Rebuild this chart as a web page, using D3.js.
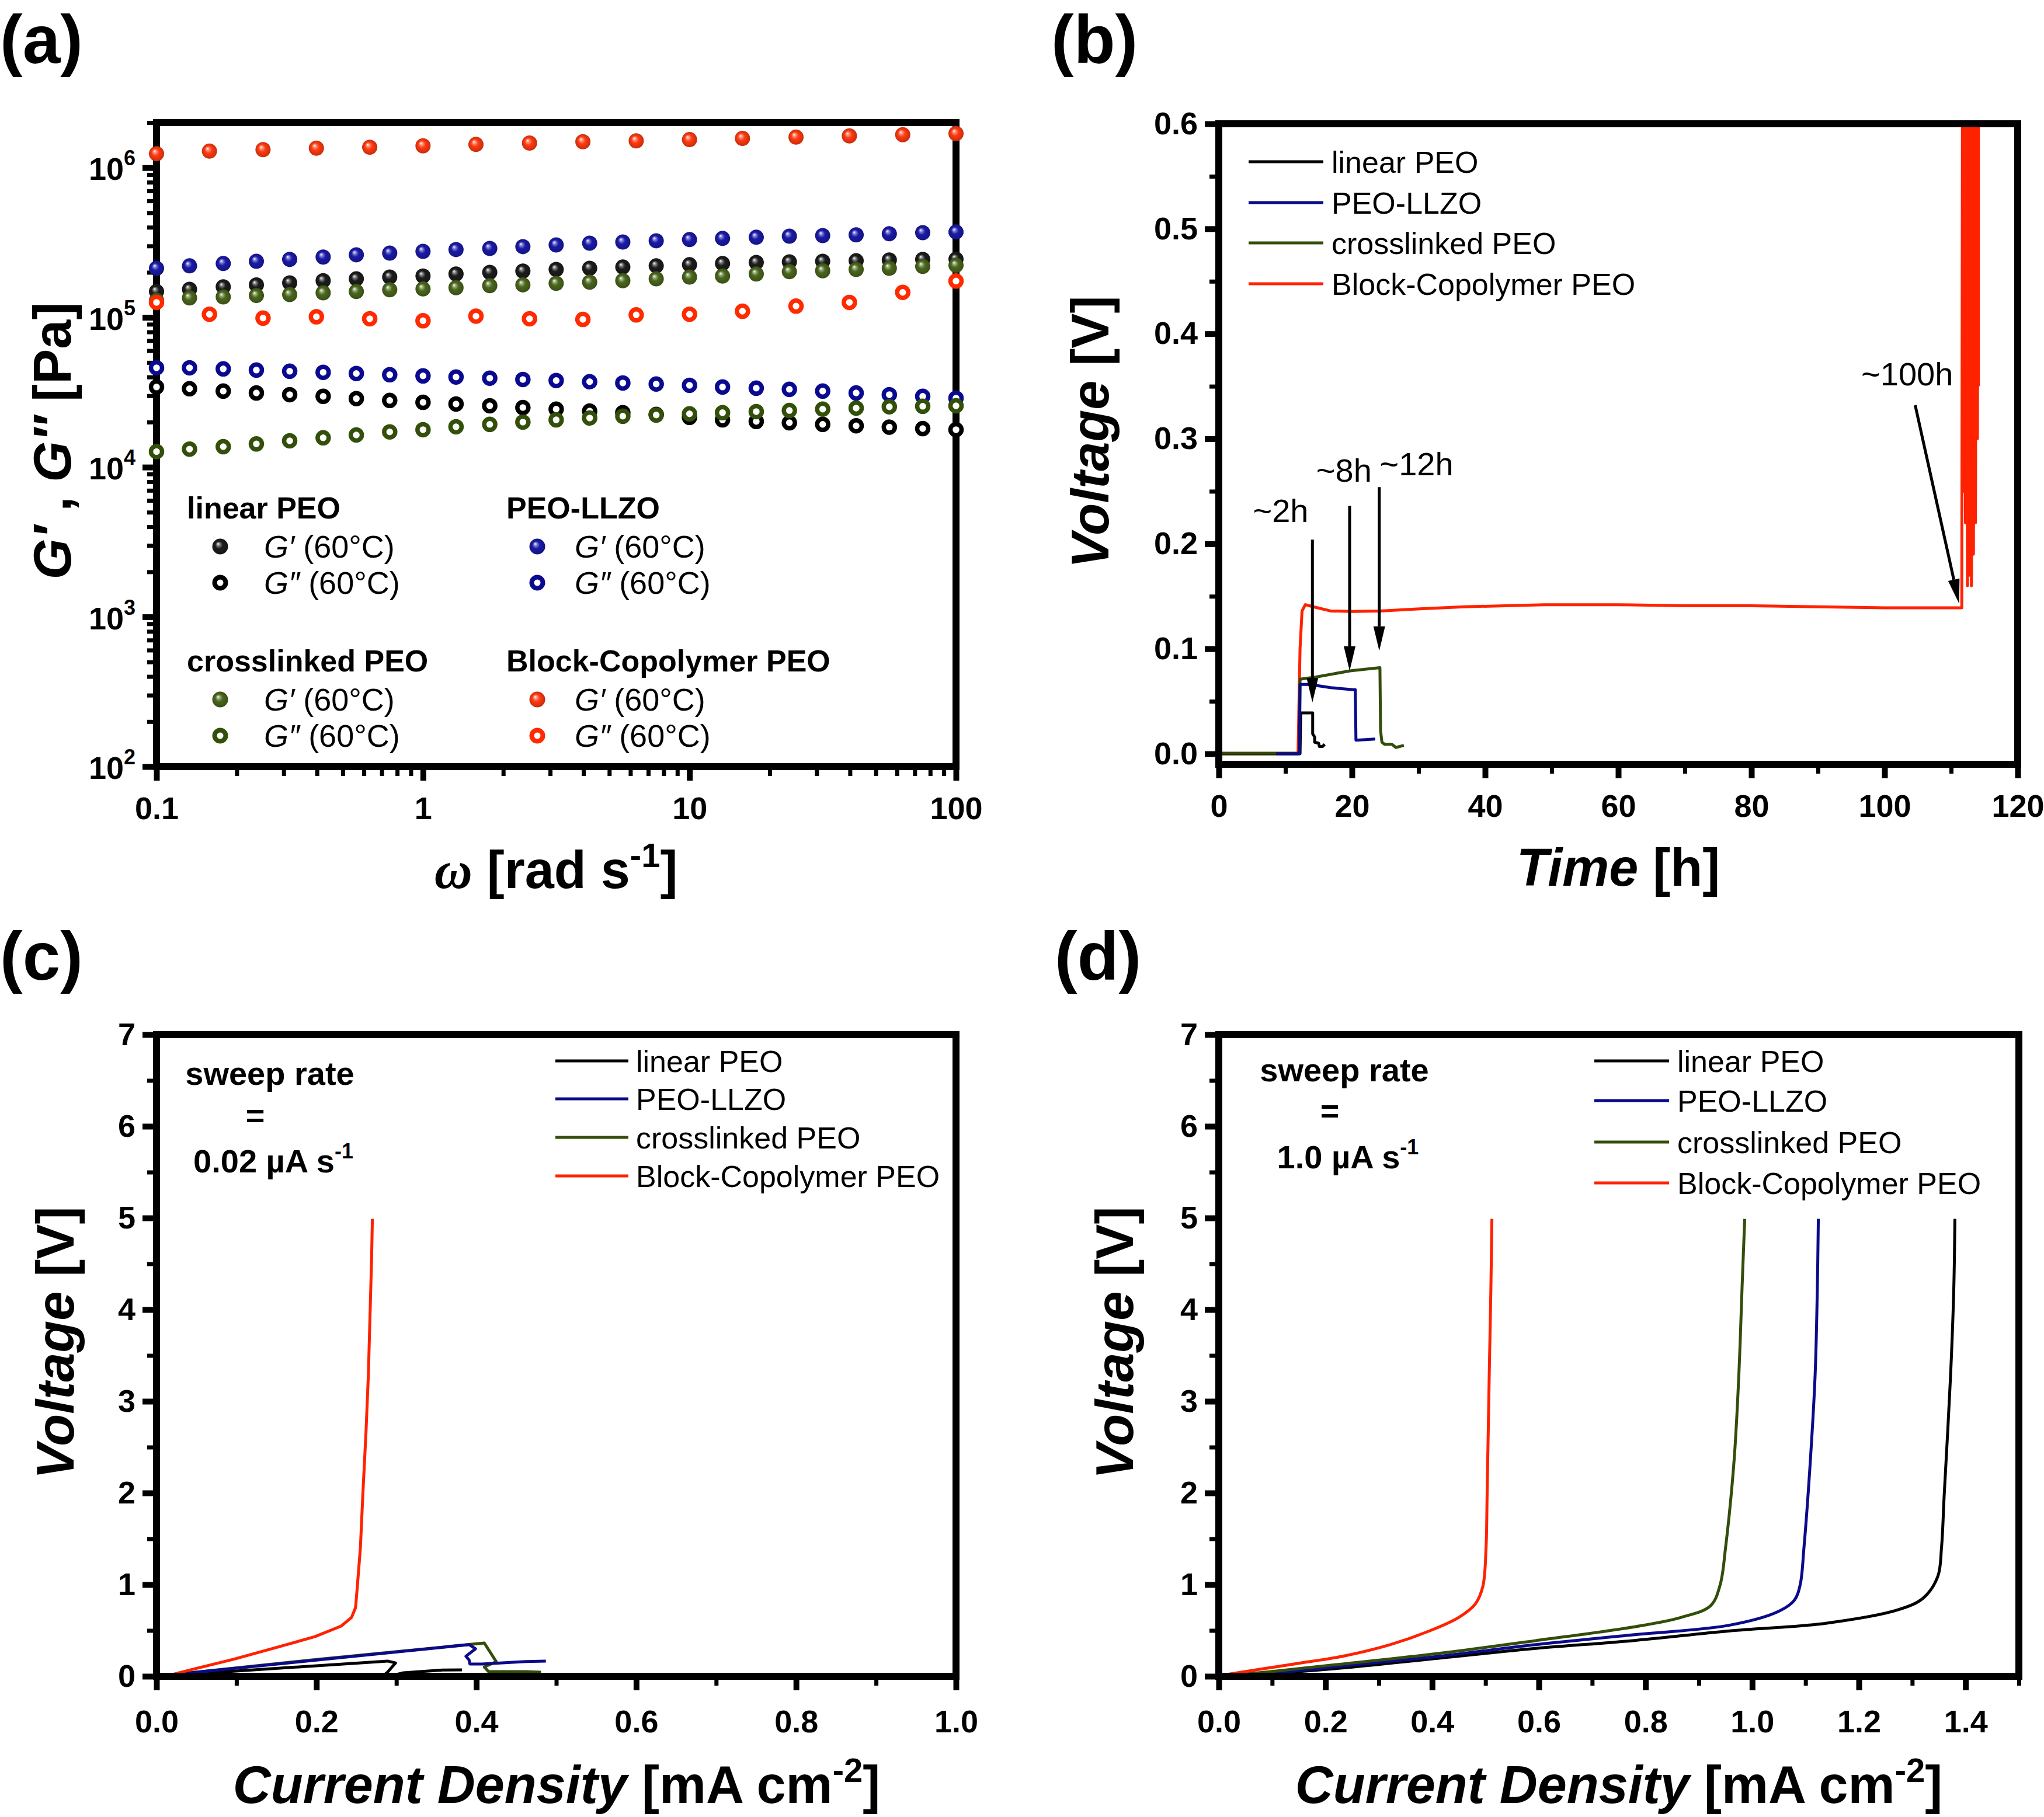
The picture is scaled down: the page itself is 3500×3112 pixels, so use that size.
<!DOCTYPE html>
<html>
<head>
<meta charset="utf-8">
<script src="https://cdn.jsdelivr.net/npm/d3@7"></script>
<style>
  body { margin: 0; background: #fff; }
  text { font-family: "Liberation Sans", Arial, Helvetica, sans-serif; fill: #000; }
</style>
</head>
<body>
<script>
// ---------- data: (a) rheology ----------
const omegaDense = [0.1, 0.133, 0.178, 0.237, 0.316, 0.422, 0.562, 0.75, 1, 1.33, 1.78, 2.37, 3.16, 4.22, 5.62, 7.5, 10, 13.3, 17.8, 23.7, 31.6, 42.2, 56.2, 75, 100];
const omegaBlock = [0.1, 0.158, 0.251, 0.398, 0.631, 1, 1.58, 2.51, 3.98, 6.31, 10, 15.8, 25.1, 39.8, 63.1, 100];

const linearGp  = [1.49e5,1.54e5,1.60e5,1.65e5,1.70e5,1.76e5,1.81e5,1.86e5,1.89e5,1.95e5,2.00e5,2.04e5,2.09e5,2.13e5,2.17e5,2.21e5,2.25e5,2.29e5,2.33e5,2.35e5,2.37e5,2.39e5,2.42e5,2.44e5,2.45e5];
const linearGpp = [3.43e4,3.34e4,3.22e4,3.13e4,3.05e4,2.97e4,2.87e4,2.79e4,2.71e4,2.64e4,2.57e4,2.50e4,2.44e4,2.37e4,2.31e4,2.25e4,2.15e4,2.07e4,2.02e4,1.98e4,1.93e4,1.89e4,1.85e4,1.81e4,1.78e4];
const llzoGp    = [2.13e5,2.21e5,2.29e5,2.37e5,2.44e5,2.53e5,2.62e5,2.69e5,2.76e5,2.84e5,2.89e5,2.97e5,3.05e5,3.13e5,3.19e5,3.25e5,3.31e5,3.37e5,3.43e5,3.49e5,3.52e5,3.56e5,3.62e5,3.68e5,3.72e5];
const llzoGpp   = [4.61e4,4.61e4,4.53e4,4.45e4,4.37e4,4.30e4,4.22e4,4.14e4,4.07e4,4.00e4,3.93e4,3.85e4,3.79e4,3.72e4,3.65e4,3.59e4,3.52e4,3.43e4,3.37e4,3.31e4,3.22e4,3.13e4,3.05e4,2.97e4,2.89e4];
const xlinkGp   = [1.30e5,1.35e5,1.37e5,1.40e5,1.42e5,1.46e5,1.49e5,1.53e5,1.55e5,1.58e5,1.63e5,1.65e5,1.69e5,1.72e5,1.76e5,1.81e5,1.86e5,1.89e5,1.95e5,2.02e5,2.05e5,2.09e5,2.13e5,2.19e5,2.23e5];
const xlinkGpp  = [1.27e4,1.32e4,1.37e4,1.43e4,1.50e4,1.57e4,1.64e4,1.72e4,1.78e4,1.86e4,1.93e4,2.00e4,2.07e4,2.13e4,2.19e4,2.23e4,2.27e4,2.31e4,2.35e4,2.39e4,2.44e4,2.48e4,2.53e4,2.55e4,2.57e4];
const blockGp   = [1.24e6,1.29e6,1.32e6,1.35e6,1.37e6,1.40e6,1.43e6,1.46e6,1.49e6,1.51e6,1.54e6,1.57e6,1.60e6,1.63e6,1.66e6,1.69e6];
const blockGpp  = [1.26e5,1.05e5,9.9e4,1.01e5,9.8e4,9.5e4,1.02e5,9.8e4,9.7e4,1.04e5,1.05e5,1.10e5,1.19e5,1.26e5,1.47e5,1.75e5];

// ---------- data: (b) galvanostatic, [time h, voltage V] ----------
const linearB = [[0,0],[12.2,0],[12.3,0.039],[14.1,0.039],[14.1,0.019],[14.4,0.016],[14.4,0.011],[15.0,0.010],[15.1,0.007],[15.6,0.007],[15.9,0.009]];
const llzoB   = [[8.6,0],[12.1,0],[12.2,0.066],[13.6,0.066],[16.8,0.063],[20.2,0.061],[20.5,0.061],[20.6,0.013],[23.5,0.014]];
const xlinkB  = [[0,0.0005],[12.1,0.0005],[12.2,0.071],[14.5,0.073],[19.7,0.079],[24.2,0.082],[24.3,0.022],[24.5,0.011],[24.9,0.009],[26.0,0.009],[26.6,0.006],[27.8,0.008]];
const blockB  = [[0,0.006],[0.15,-0.005],[0.3,0],[11.9,0],[12.2,0.10],[12.5,0.136],[13.0,0.142],[14.2,0.140],[16.8,0.136],[20.2,0.1355],[24.2,0.136],[30.2,0.138],[36.9,0.140],[48.9,0.142],[60,0.142],[70,0.141],[80,0.141],[90,0.140],[100,0.139],[111.6,0.139],
                 [111.7,0.62],[111.85,0.25],[112.0,0.62],[112.15,0.22],[112.3,0.62],[112.45,0.16],[112.6,0.62],[112.75,0.17],[112.9,0.62],[113.05,0.16],[113.2,0.62],[113.35,0.19],[113.5,0.62],[113.65,0.22],[113.8,0.62],[113.95,0.30],[114.1,0.62],[114.1,0.35]];
const arrowsB = [
  { label: "~2h",   lx: 9.3,   ly: 0.221, x0: 14.06, y0: 0.204, x1: 14.06, y1: 0.049 },
  { label: "~8h",   lx: 18.8,  ly: 0.259, x0: 19.65, y0: 0.236, x1: 19.65, y1: 0.079 },
  { label: "~12h",  lx: 29.7,  ly: 0.265, x0: 24.1,  y0: 0.254, x1: 24.1,  y1: 0.098 },
  { label: "~100h", lx: 103.4, ly: 0.351, x0: 104.6, y0: 0.332, x1: 111.2, y1: 0.143 }
];

// ---------- data: (c) 0.02 uA/s sweep, [mA cm-2, V] ----------
const linearC = [[0,0],[0.289,0.166],[0.299,0.146],[0.289,0.045],[0.284,0.01],[0.30,0.02],[0.309,0.038],[0.358,0.068],[0.382,0.07]];
const llzoC   = [[0,0],[0.2,0.177],[0.391,0.346],[0.399,0.30],[0.387,0.219],[0.391,0.177],[0.392,0.134],[0.407,0.134],[0.462,0.161],[0.487,0.166]];
const xlinkC  = [[0,0],[0.2,0.183],[0.41,0.363],[0.425,0.159],[0.41,0.102],[0.415,0.053],[0.462,0.051],[0.481,0.045]];
const blockC  = [[0,0],[0.02,0.02],[0.048,0.082],[0.097,0.187],[0.146,0.305],[0.198,0.432],[0.231,0.548],[0.244,0.643],[0.249,0.75],[0.251,0.96],[0.255,1.40],[0.258,1.97],[0.262,2.66],[0.265,3.29],[0.267,3.92],[0.269,4.55],[0.270,4.99]];

// ---------- data: (d) 1.0 uA/s sweep, [mA cm-2, V] ----------
const linearD = [[0,0],[0.095,0.03],[0.232,0.091],[0.413,0.198],[0.594,0.304],[0.776,0.389],[0.958,0.495],[1.14,0.58],[1.275,0.728],[1.321,0.855],[1.348,1.09],[1.355,1.41],[1.360,1.98],[1.372,3.29],[1.378,4.24],[1.380,4.99]];
const llzoD   = [[0,0],[0.095,0.03],[0.232,0.113],[0.413,0.218],[0.594,0.346],[0.776,0.452],[0.958,0.558],[1.049,0.707],[1.079,0.83],[1.09,1.0],[1.097,1.40],[1.109,2.35],[1.118,3.29],[1.122,4.2],[1.124,4.99]];
const xlinkD  = [[0,0],[0.095,0.05],[0.232,0.134],[0.413,0.25],[0.594,0.389],[0.776,0.537],[0.867,0.643],[0.922,0.77],[0.940,1.0],[0.950,1.40],[0.966,2.35],[0.975,3.29],[0.981,4.24],[0.986,4.99]];
const blockD  = [[0,0],[0.014,0.017],[0.141,0.134],[0.232,0.218],[0.322,0.346],[0.395,0.495],[0.45,0.643],[0.481,0.79],[0.495,0.98],[0.501,1.40],[0.503,1.97],[0.507,3.29],[0.510,4.2],[0.512,4.99]];

// ---------- ticks ----------
const aXTicks = [0.1, 1, 10, 100];
const aXLabels = ["0.1", "1", "10", "100"];
const aYTicks = [1e2, 1e3, 1e4, 1e5, 1e6];
const aYExp = ["2", "3", "4", "5", "6"];
const bXTicks = [0, 20, 40, 60, 80, 100, 120];
const bXMinor = [10, 30, 50, 70, 90, 110];
const bYTicks = [0, 0.1, 0.2, 0.3, 0.4, 0.5, 0.6];
const bYMinor = [0.05, 0.15, 0.25, 0.35, 0.45, 0.55];
const cXTicks = [0, 0.2, 0.4, 0.6, 0.8, 1.0];
const cXMinor = [0.1, 0.3, 0.5, 0.7, 0.9];
const dXTicks = [0, 0.2, 0.4, 0.6, 0.8, 1.0, 1.2, 1.4];
const dXMinor = [0.1, 0.3, 0.5, 0.7, 0.9, 1.1, 1.3, 1.5];
const vTicks = [0, 1, 2, 3, 4, 5, 6, 7];
const vMinor = [0.5, 1.5, 2.5, 3.5, 4.5, 5.5, 6.5];

const names = ["linear PEO", "PEO-LLZO", "crosslinked PEO", "Block-Copolymer PEO"];
const lineColors = ["#000000", "#0a0a8a", "#334d0a", "#ff2200"];
const ballColors = ["#1c1c1c", "#1a1aa8", "#4a661c", "#ff3a10"];
const ringColors = ["#000000", "#0a0a90", "#33500a", "#ff2a00"];

// ---------- page ----------
const svg = d3.select("body").append("svg").attr("width", 3500).attr("height", 3112);
svg.append("rect").attr("width", 3500).attr("height", 3112).attr("fill", "#fff");
const defs = svg.append("defs");

function styleAxis(g, sw, fs) {
  g.select(".domain").remove();
  g.selectAll(".tick line").attr("stroke", "#000").attr("stroke-width", sw);
  g.selectAll(".tick text").attr("font-size", fs || 54).attr("font-weight", "bold")
    .attr("font-family", "Liberation Sans, Arial, sans-serif").attr("fill", "#000");
}

function frame(box) {
  svg.append("rect").attr("x", box.x0).attr("y", box.y0)
    .attr("width", box.x1 - box.x0).attr("height", box.y1 - box.y0)
    .attr("fill", "none").attr("stroke", "#000").attr("stroke-width", 12);
}

function linTicks(box, x, y, o) {
  const gx = svg.append("g").attr("transform", `translate(0,${box.y1})`)
    .call(d3.axisBottom(x).tickValues(o.xMajor).tickSize(24).tickPadding(o.xPad).tickFormat(o.xFmt));
  const gxm = svg.append("g").attr("transform", `translate(0,${box.y1})`)
    .call(d3.axisBottom(x).tickValues(o.xMinor).tickSize(16).tickFormat(""));
  const gy = svg.append("g").attr("transform", `translate(${box.x0},0)`)
    .call(d3.axisLeft(y).tickValues(o.yMajor).tickSize(24).tickPadding(12).tickFormat(o.yFmt));
  const gym = svg.append("g").attr("transform", `translate(${box.x0},0)`)
    .call(d3.axisLeft(y).tickValues(o.yMinor).tickSize(16).tickFormat(""));
  styleAxis(gx, 10); styleAxis(gy, 10); styleAxis(gxm, 7); styleAxis(gym, 7);
}

function panelLabel(txt, x, y) {
  svg.append("text").attr("x", x).attr("y", y).attr("font-size", 116).attr("font-weight", "bold").text(txt);
}

function yTitle(x, cy, parts) {
  const t = svg.append("text").attr("transform", `translate(${x},${cy}) rotate(-90)`)
    .attr("text-anchor", "middle").attr("font-size", 90).attr("font-weight", "bold");
  parts.forEach(p => t.append("tspan").attr("font-style", p[1] ? "italic" : null).text(p[0]));
}

function xTitleCurrent(cx, y) {
  const t = svg.append("text").attr("x", cx).attr("y", y).attr("text-anchor", "middle")
    .attr("font-size", 90).attr("font-weight", "bold");
  t.append("tspan").attr("font-style", "italic").text("Current Density");
  t.append("tspan").text(" [mA cm");
  t.append("tspan").attr("font-size", 58).attr("dy", -36).text("-2");
  t.append("tspan").attr("dy", 36).text("]");
}

function lineLegend(x0, x1, tx, rows, fs) {
  names.forEach((n, i) => {
    svg.append("line").attr("x1", x0).attr("x2", x1).attr("y1", rows[i]).attr("y2", rows[i])
      .attr("stroke", lineColors[i]).attr("stroke-width", 5);
    svg.append("text").attr("x", tx).attr("y", rows[i] + 19).attr("font-size", fs).text(n);
  });
}

function sweepNote(cx, y1, y2, y3, rate) {
  const g = svg.append("g").attr("font-weight", "bold").attr("font-size", 56).attr("text-anchor", "middle");
  g.append("text").attr("x", cx).attr("y", y1).text("sweep rate");
  g.append("text").attr("x", cx - 25).attr("y", y2).text("=");
  const t = g.append("text").attr("x", cx + 6).attr("y", y3);
  t.append("tspan").text(rate + " µA s");
  t.append("tspan").attr("font-size", 36).attr("dy", -24).text("-1");
}

// ======================= (a) =======================
(function () {
  const box = { x0: 268, x1: 1637, y0: 210, y1: 1313 };
  const x = d3.scaleLog().domain([0.1, 100]).range([box.x0, box.x1]);
  const y = d3.scaleLog().domain([100, 2e6]).range([box.y1, box.y0]);

  ballColors.forEach((c, i) => {
    const g = defs.append("radialGradient").attr("id", "ball" + i)
      .attr("cx", "50%").attr("cy", "50%").attr("r", "50%").attr("fx", "36%").attr("fy", "32%");
    g.append("stop").attr("offset", "0%").attr("stop-color", "#fff");
    g.append("stop").attr("offset", "20%").attr("stop-color", d3.interpolateRgb(c, "#fff")(0.45));
    g.append("stop").attr("offset", "48%").attr("stop-color", c);
    g.append("stop").attr("offset", "100%").attr("stop-color", d3.color(c).darker(0.7));
  });

  const xMinor = [0.1, 1, 10].flatMap(d => [2, 3, 4, 5, 6, 7, 8, 9].map(k => k * d));
  const yMinor = [1e2, 1e3, 1e4, 1e5].flatMap(d => [2, 3, 4, 5, 6, 7, 8, 9].map(k => k * d)).concat([2e6]);

  const gx = svg.append("g").attr("transform", `translate(0,${box.y1})`)
    .call(d3.axisBottom(x).tickValues(aXTicks).tickSize(24).tickPadding(28).tickFormat((d, i) => aXLabels[i]));
  const gxm = svg.append("g").attr("transform", `translate(0,${box.y1})`)
    .call(d3.axisBottom(x).tickValues(xMinor).tickSize(16).tickFormat(""));
  const gy = svg.append("g").attr("transform", `translate(${box.x0},0)`)
    .call(d3.axisLeft(y).tickValues(aYTicks).tickSize(24).tickFormat(""));
  const gym = svg.append("g").attr("transform", `translate(${box.x0},0)`)
    .call(d3.axisLeft(y).tickValues(yMinor).tickSize(16).tickFormat(""));
  styleAxis(gx, 10); styleAxis(gy, 10); styleAxis(gxm, 7); styleAxis(gym, 7);

  aYTicks.forEach((v, i) => {
    const t = svg.append("text").attr("x", box.x0 - 36).attr("y", y(v) + 21)
      .attr("text-anchor", "end").attr("font-size", 54).attr("font-weight", "bold");
    t.append("tspan").text("10");
    t.append("tspan").attr("font-size", 36).attr("dy", -25).text(aYExp[i]);
  });

  frame(box);

  const sets = [
    { w: omegaDense, gp: linearGp, gpp: linearGpp },
    { w: omegaDense, gp: llzoGp, gpp: llzoGpp },
    { w: omegaDense, gp: xlinkGp, gpp: xlinkGpp },
    { w: omegaBlock, gp: blockGp, gpp: blockGpp }
  ];
  sets.forEach((s, i) => {
    svg.append("g").selectAll("circle").data(s.gp).join("circle")
      .attr("cx", (d, k) => x(s.w[k])).attr("cy", d => y(d)).attr("r", 13)
      .attr("fill", `url(#ball${i})`);
    svg.append("g").selectAll("circle").data(s.gpp).join("circle")
      .attr("cx", (d, k) => x(s.w[k])).attr("cy", d => y(d)).attr("r", 9.5)
      .attr("fill", "#fff").attr("stroke", ringColors[i]).attr("stroke-width", 7.5);
  });

  // legend
  const cols = [{ t: 320, m: 377, x: 452 }, { t: 867, m: 920, x: 984 }];
  const blocks = [888, 1150];
  names.forEach((n, i) => {
    const c = cols[i % 2], by = blocks[Math.floor(i / 2)];
    svg.append("text").attr("x", c.t).attr("y", by).attr("font-size", 52).attr("font-weight", "bold").text(n);
    svg.append("circle").attr("cx", c.m).attr("cy", by + 48).attr("r", 13.5).attr("fill", `url(#ball${i})`);
    svg.append("circle").attr("cx", c.m).attr("cy", by + 110).attr("r", 9.5)
      .attr("fill", "#fff").attr("stroke", ringColors[i]).attr("stroke-width", 8);
    [["G′", by + 48], ["G″", by + 110]].forEach(r => {
      const t = svg.append("text").attr("x", c.x).attr("y", r[1] + 19).attr("font-size", 54);
      t.append("tspan").attr("font-style", "italic").text(r[0]);
      t.append("tspan").text(" (60°C)");
    });
  });

  yTitle(121, 755, [["G′", true], [" , ", false], ["G″", true], [" [Pa]", false]]);
  const t = svg.append("text").attr("x", 952).attr("y", 1521).attr("text-anchor", "middle")
    .attr("font-size", 90).attr("font-weight", "bold");
  t.append("tspan").attr("font-family", "Liberation Serif, Times New Roman, serif").attr("font-style", "italic").text("ω");
  t.append("tspan").text(" [rad s");
  t.append("tspan").attr("font-size", 58).attr("dy", -36).text("-1");
  t.append("tspan").attr("dy", 36).text("]");
  panelLabel("(a)", 0, 108);
})();

// ======================= (b) =======================
(function () {
  const box = { x0: 2087, x1: 3455, y0: 212, y1: 1309 };
  const x = d3.scaleLinear().domain([0, 120]).range([box.x0, box.x1]);
  const y = d3.scaleLinear().domain([-0.01, 0.6]).range([box.y1, box.y0]);

  defs.append("clipPath").attr("id", "clipB").append("rect")
    .attr("x", box.x0).attr("y", box.y0).attr("width", box.x1 - box.x0).attr("height", box.y1 - box.y0);

  const line = d3.line().x(d => x(d[0])).y(d => y(d[1]));
  const plot = svg.append("g").attr("clip-path", "url(#clipB)");
  [[blockB, 3], [linearB, 0], [xlinkB, 2], [llzoB, 1]].forEach(([data, i]) => {
    plot.append("path").attr("d", line(data)).attr("fill", "none")
      .attr("stroke", lineColors[i]).attr("stroke-width", 5).attr("stroke-linejoin", "round");
  });

  linTicks(box, x, y, { xMajor: bXTicks, xMinor: bXMinor, yMajor: bYTicks, yMinor: bYMinor,
    xFmt: d3.format("d"), yFmt: d3.format(".1f"), xPad: 28 });
  frame(box);

  // arrows + labels
  arrowsB.forEach(a => {
    const px0 = x(a.x0), py0 = y(a.y0), px1 = x(a.x1), py1 = y(a.y1);
    const ang = Math.atan2(py1 - py0, px1 - px0), L = 42, hw = 10;
    const bx = px1 - L * Math.cos(ang), byy = py1 - L * Math.sin(ang);
    svg.append("line").attr("x1", px0).attr("y1", py0).attr("x2", bx).attr("y2", byy)
      .attr("stroke", "#000").attr("stroke-width", 5);
    svg.append("polygon").attr("fill", "#000").attr("points", [
      [px1, py1],
      [bx + hw * Math.sin(ang), byy - hw * Math.cos(ang)],
      [bx - hw * Math.sin(ang), byy + hw * Math.cos(ang)]
    ].map(p => p.join(",")).join(" "));
    svg.append("text").attr("x", x(a.lx)).attr("y", y(a.ly)).attr("text-anchor", "middle")
      .attr("font-size", 56).text(a.label);
  });

  lineLegend(2138, 2266, 2280, [277, 347, 416, 486], 52);
  yTitle(1898, 740, [["Voltage", true], [" [V]", false]]);
  const t = svg.append("text").attr("x", 2771).attr("y", 1517).attr("text-anchor", "middle")
    .attr("font-size", 90).attr("font-weight", "bold");
  t.append("tspan").attr("font-style", "italic").text("Time");
  t.append("tspan").text(" [h]");
  panelLabel("(b)", 1800, 108);
})();

// ======================= (c) =======================
(function () {
  const box = { x0: 268, x1: 1637, y0: 1772, y1: 2871 };
  const x = d3.scaleLinear().domain([0, 1]).range([box.x0, box.x1]);
  const y = d3.scaleLinear().domain([0, 7]).range([box.y1, box.y0]);
  const line = d3.line().x(d => x(d[0])).y(d => y(d[1]));
  [[linearC, 0], [xlinkC, 2], [llzoC, 1], [blockC, 3]].forEach(([data, i]) => {
    svg.append("path").attr("d", line(data)).attr("fill", "none")
      .attr("stroke", lineColors[i]).attr("stroke-width", 5).attr("stroke-linejoin", "round");
  });
  linTicks(box, x, y, { xMajor: cXTicks, xMinor: cXMinor, yMajor: vTicks, yMinor: vMinor,
    xFmt: d3.format(".1f"), yFmt: d3.format("d"), xPad: 34 });
  frame(box);
  lineLegend(951, 1076, 1089, [1817, 1882, 1948, 2014], 52);
  sweepNote(462, 1858, 1930, 2008, "0.02");
  yTitle(126, 2300, [["Voltage", true], [" [V]", false]]);
  xTitleCurrent(953, 3088);
  panelLabel("(c)", 0, 1678);
})();

// ======================= (d) =======================
(function () {
  const box = { x0: 2087, x1: 3457, y0: 1772, y1: 2871 };
  const x = d3.scaleLinear().domain([0, 1.5]).range([box.x0, box.x1]);
  const y = d3.scaleLinear().domain([0, 7]).range([box.y1, box.y0]);
  const line = d3.line().x(d => x(d[0])).y(d => y(d[1])).curve(d3.curveCatmullRom.alpha(0.5));
  [[linearD, 0], [llzoD, 1], [xlinkD, 2], [blockD, 3]].forEach(([data, i]) => {
    svg.append("path").attr("d", line(data)).attr("fill", "none")
      .attr("stroke", lineColors[i]).attr("stroke-width", 5).attr("stroke-linejoin", "round");
  });
  linTicks(box, x, y, { xMajor: dXTicks, xMinor: dXMinor, yMajor: vTicks, yMinor: vMinor,
    xFmt: d3.format(".1f"), yFmt: d3.format("d"), xPad: 34 });
  frame(box);
  lineLegend(2730, 2858, 2872, [1817, 1885, 1956, 2026], 52);
  sweepNote(2302, 1852, 1922, 2001, "1.0");
  yTitle(1940, 2300, [["Voltage", true], [" [V]", false]]);
  xTitleCurrent(2772, 3088);
  panelLabel("(d)", 1806, 1678);
})();
</script>
</body>
</html>
